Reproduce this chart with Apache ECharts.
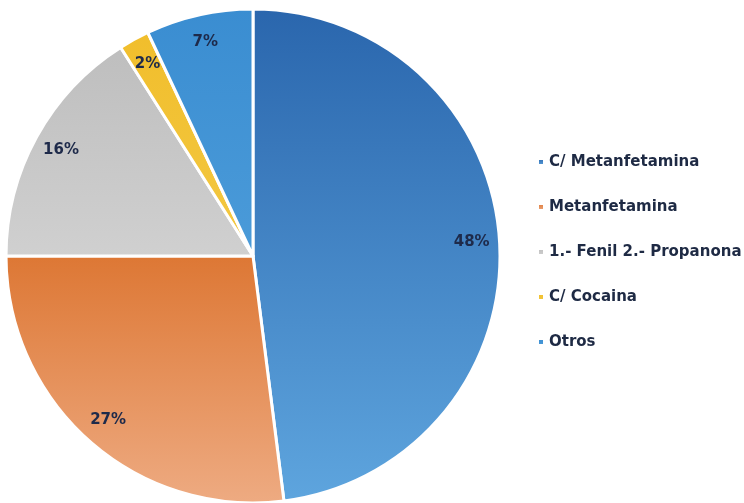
<!DOCTYPE html>
<html>
<head>
<meta charset="utf-8">
<script src="https://cdn.jsdelivr.net/npm/echarts@6/dist/echarts.min.js"></script>
<style>
  html, body { margin: 0; padding: 0; background: #fff; }
  #chart { width: 744px; height: 503px; }
</style>
</head>
<body>
<div id="chart"></div>
<script>
// Share of seizures by substance (percent)
const categories = ['C/ Metanfetamina', 'Metanfetamina', '1.- Fenil 2.- Propanona', 'C/ Cocaina', 'Otros']
const values = [48, 27, 16, 2, 7]
// gradient top/bottom per slice
const colorTop = ['#2a66ad', '#dd7734', '#bebebe', '#f1be2c', '#3a8dd1']
const colorBottom = ['#5ea5de', '#eeab82', '#d0d0d0', '#f3c842', '#4b9bd9']

const grad = (i) => new echarts.graphic.LinearGradient(0, 0, 0, 1, [
  { offset: 0, color: colorTop[i] },
  { offset: 1, color: colorBottom[i] },
])

const chart = echarts.init(document.getElementById('chart'), null, { renderer: 'canvas' })

const center = [253, 256]
const R = 247

chart.setOption({
  backgroundColor: '#ffffff',
  animation: false,
  legend: {
    orient: 'vertical',
    left: 532,
    top: 148,
    icon: 'rect',
    itemWidth: 6,
    itemHeight: 6,
    itemGap: 27,
    data: categories,
    textStyle: {
      color: '#1e2a44',
      fontFamily: 'DejaVu Sans',
      fontWeight: 'bold',
      fontSize: 15,
      lineHeight: 18,
    },
  },
  series: [
    {
      name: 'slices',
      type: 'pie',
      center: center,
      radius: [0, R],
      startAngle: 90,
      clockwise: true,
      label: { show: false },
      labelLine: { show: false },
      itemStyle: { borderColor: '#ffffff', borderWidth: 3 },
      emphasis: { disabled: true },
      data: categories.map((name, i) => ({
        name,
        value: values[i],
        itemStyle: { color: grad(i) },
      })),
    },
    {
      // transparent ring carrying the percentage labels near the rim
      name: 'labels',
      type: 'pie',
      center: center,
      radius: [R * 0.75, R],
      startAngle: 90,
      clockwise: true,
      silent: true,
      legendHoverLink: false,
      itemStyle: { color: 'rgba(0,0,0,0)', borderWidth: 0 },
      label: {
        show: true,
        position: 'inside',
        formatter: '{c}%',
        color: '#1e2a4a',
        fontFamily: 'DejaVu Sans',
        fontWeight: 'bold',
        fontSize: 15,
      },
      labelLine: { show: false },
      emphasis: { disabled: true },
      data: categories.map((name, i) => ({ name: name + ' ', value: values[i] })),
    },
  ],
})
</script>
</body>
</html>
